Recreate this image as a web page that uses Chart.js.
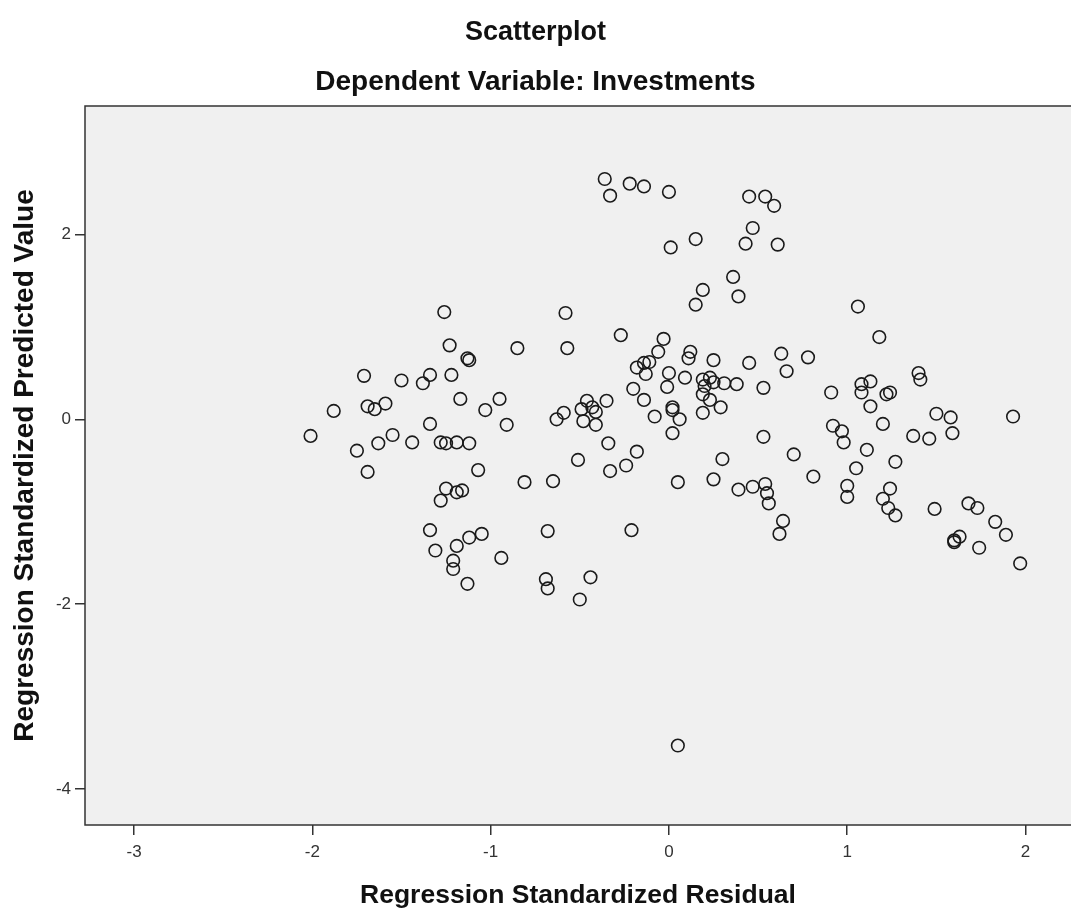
<!DOCTYPE html>
<html>
<head>
<meta charset="utf-8">
<script src="https://cdn.jsdelivr.net/npm/chart.js@4/dist/chart.umd.min.js"></script>
<style>
  html, body { margin: 0; padding: 0; background: #fff; }
  #wrap { width: 1071px; height: 913px; }
</style>
</head>
<body>
<div id="wrap"><canvas id="grafico"></canvas></div>
<script>
// valores
const residual = [
  -0.36, -0.33, -0.22, -0.14, 0.00, 0.45, 0.54, 0.59, 0.47, 0.43,
  0.61, 0.15, 0.01, 0.36, 0.19, 0.39, 0.15, -0.58, -1.26, 1.06,
  -1.23, -0.85, -1.13, -1.12, -1.71, -1.50, -1.34, -1.38, -1.22, -1.17,
  -0.95, -1.03, -1.88, -1.69, -1.65, -1.59, -0.91, -1.34, -2.01, -1.55,
  -1.63, -1.44, -1.28, -1.25, -1.19, -1.12, -1.75, -1.69, -1.07, -0.27,
  -0.57, -0.03, -0.06, 0.12, 0.11, 0.25, 0.45, 0.63, 0.66, -0.18,
  -0.14, -0.11, -0.13, 0.00, 0.09, -0.01, 0.19, 0.23, 0.25, 0.31,
  0.38, 0.20, 0.19, 0.23, 0.53, -0.20, -0.14, -0.35, -0.46, -0.49,
  -0.43, -0.41, -0.59, -0.63, -0.48, -0.41, 0.02, 0.02, 0.06, 0.19,
  0.29, -0.08, 0.02, 0.53, -0.34, -0.18, -0.51, -0.24, -0.33, 0.30,
  0.70, 1.18, 0.78, 1.40, 1.41, 1.13, 1.08, 1.08, 0.91, 1.22,
  1.24, 1.13, 1.50, 1.58, 1.59, 1.93, 0.92, 0.97, 0.98, 1.20,
  1.37, 1.46, 1.11, 1.05, 1.27, -0.81, -1.25, -1.19, -1.16, -1.28,
  -1.34, -1.31, -1.19, -1.12, -1.05, -1.21, -1.21, -0.94, -1.13, -0.65,
  0.05, 0.25, 0.39, 0.47, 0.54, 0.55, 0.56, 0.64, 0.62, -0.68,
  -0.21, -0.69, -0.68, -0.44, -0.50, 0.81, 1.00, 1.00, 1.24, 1.20,
  1.23, 1.27, 1.49, 1.68, 1.73, 1.83, 1.89, 1.63, 1.60, 1.60,
  1.74, 1.97, 0.05
];
const predicho = [
  2.60, 2.42, 2.55, 2.52, 2.46, 2.41, 2.41, 2.31, 2.07, 1.90,
  1.89, 1.95, 1.86, 1.54, 1.40, 1.33, 1.24, 1.15, 1.16, 1.22,
  0.80, 0.77, 0.66, 0.64, 0.47, 0.42, 0.48, 0.39, 0.48, 0.22,
  0.22, 0.10, 0.09, 0.14, 0.11, 0.17, -0.06, -0.05, -0.18, -0.17,
  -0.26, -0.25, -0.25, -0.26, -0.25, -0.26, -0.34, -0.57, -0.55, 0.91,
  0.77, 0.87, 0.73, 0.73, 0.66, 0.64, 0.61, 0.71, 0.52, 0.56,
  0.61, 0.62, 0.49, 0.50, 0.45, 0.35, 0.43, 0.45, 0.40, 0.39,
  0.38, 0.36, 0.27, 0.21, 0.34, 0.33, 0.21, 0.20, 0.20, 0.11,
  0.13, 0.08, 0.07, 0.00, -0.02, -0.06, 0.13, 0.10, 0.00, 0.07,
  0.13, 0.03, -0.15, -0.19, -0.26, -0.35, -0.44, -0.50, -0.56, -0.43,
  -0.38, 0.89, 0.67, 0.50, 0.43, 0.41, 0.38, 0.29, 0.29, 0.27,
  0.29, 0.14, 0.06, 0.02, -0.15, 0.03, -0.07, -0.13, -0.25, -0.05,
  -0.18, -0.21, -0.33, -0.53, -0.46, -0.68, -0.75, -0.79, -0.77, -0.88,
  -1.20, -1.42, -1.37, -1.28, -1.24, -1.53, -1.62, -1.50, -1.78, -0.67,
  -0.68, -0.65, -0.76, -0.73, -0.70, -0.80, -0.91, -1.10, -1.24, -1.21,
  -1.20, -1.73, -1.83, -1.71, -1.95, -0.62, -0.72, -0.84, -0.75, -0.86,
  -0.96, -1.04, -0.97, -0.91, -0.96, -1.11, -1.25, -1.27, -1.31, -1.33,
  -1.39, -1.56, -3.53
];
const ticksX = [-3, -2, -1, 0, 1, 2];
const ticksY = [-4, -2, 0, 2];

const familia = '"Liberation Sans", Arial, sans-serif';
const fuenteTitulo = { family: familia, size: 27, weight: 'bold' };
const fuenteSub = { family: familia, size: 28, weight: 'bold' };
const fuenteEjeX = { family: familia, size: 26.5, weight: 'bold' };
const fuenteEjeY = { family: familia, size: 28, weight: 'bold' };
const fuenteTicks = { family: familia, size: 17 };

// fondo gris y bordes del area de trazado
const fondoPlot = {
  id: 'fondoPlot',
  beforeDraw(chart) {
    const { ctx, chartArea: a } = chart;
    ctx.save();
    ctx.fillStyle = '#f0f0f0';
    ctx.fillRect(a.left, a.top, a.right - a.left, a.bottom - a.top);
    ctx.restore();
  },
  afterDraw(chart) {
    const { ctx, chartArea: a } = chart;
    ctx.save();
    ctx.strokeStyle = '#333';
    ctx.lineWidth = 1.5;
    ctx.beginPath();
    ctx.moveTo(a.right, a.top);
    ctx.lineTo(a.left, a.top);
    ctx.lineTo(a.left, a.bottom);
    ctx.lineTo(a.right, a.bottom);
    ctx.stroke();
    ctx.restore();
  }
};

new Chart(document.getElementById('grafico'), {
  type: 'scatter',
  data: {
    datasets: [{
      label: 'Residuos',
      data: residual.map((r, i) => ({ x: r, y: predicho[i] })),
      pointRadius: 6.3,
      pointHoverRadius: 6.3,
      borderWidth: 1.6,
      borderColor: '#1a1a1a',
      backgroundColor: 'rgba(0,0,0,0)'
    }]
  },
  options: {
    responsive: true,
    maintainAspectRatio: false,
    animation: false,
    layout: { padding: 0, autoPadding: false },
    plugins: {
      legend: { display: false },
      tooltip: { enabled: false },
      title: {
        display: true,
        text: 'Scatterplot',
        color: '#111',
        font: fuenteTitulo,
        padding: { top: 16, bottom: 0 }
      },
      subtitle: {
        display: true,
        text: 'Dependent Variable: Investments',
        color: '#111',
        font: fuenteSub,
        padding: { top: 17, bottom: 7 }
      }
    },
    scales: {
      x: {
        type: 'linear',
        min: -3.275,
        max: 2.255,
        afterBuildTicks: s => { s.ticks = ticksX.map(v => ({ value: v })); },
        afterFit: s => { s.height = 88; s.paddingLeft = 0; s.paddingRight = 0; },
        grid: { display: true, drawOnChartArea: false, drawTicks: true, tickLength: 10, color: '#333', lineWidth: 1.5 },
        border: { display: false },
        ticks: { color: '#333', font: fuenteTicks, padding: 7, maxRotation: 0 },
        title: {
          display: true,
          text: 'Regression Standardized Residual',
          color: '#111',
          font: fuenteEjeX,
          padding: { top: 17, bottom: 1 }
        }
      },
      y: {
        type: 'linear',
        min: -4.39,
        max: 3.39,
        afterBuildTicks: s => { s.ticks = ticksY.map(v => ({ value: v })); },
        afterFit: s => { s.width = 85; s.paddingTop = 0; s.paddingBottom = 0; },
        grid: { display: true, drawOnChartArea: false, drawTicks: true, tickLength: 10, color: '#333', lineWidth: 1.5 },
        border: { display: false },
        ticks: { color: '#333', font: fuenteTicks, padding: 4 },
        title: {
          display: true,
          text: 'Regression Standardized Predicted Value',
          color: '#111',
          font: fuenteEjeY,
          padding: { top: 8, bottom: 0 }
        }
      }
    }
  },
  plugins: [fondoPlot]
});
</script>
</body>
</html>
